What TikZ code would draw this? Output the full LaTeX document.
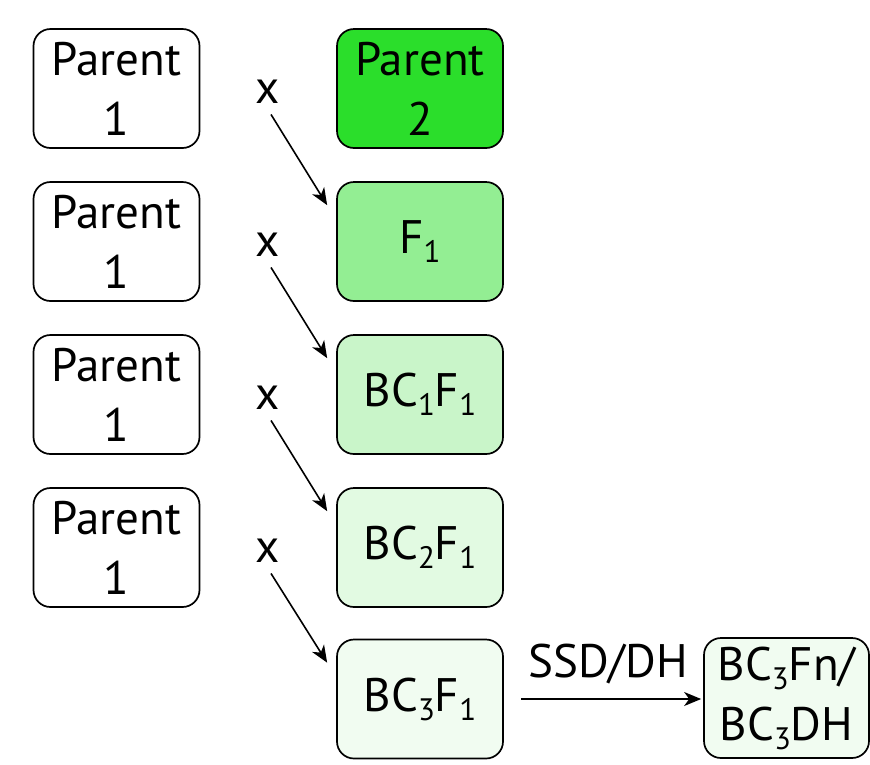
\documentclass[tikz,border=0pt]{standalone}
\usepackage{fontspec}
\setmainfont{PT Sans}
\usetikzlibrary{arrows.meta}
\newcommand\subd[1]{\raisebox{-9pt}{\fontsize{31}{31}\selectfont #1}}
\definecolor{gParent}{RGB}{43,222,43}
\definecolor{gFone}{RGB}{147,238,147}
\definecolor{gBCone}{RGB}{201,245,201}
\definecolor{gBCtwo}{RGB}{226,250,226}
\definecolor{gBCthree}{RGB}{241,252,241}
\tikzset{
  gbox/.style={draw=black, line width=1.7pt, rounded corners=17pt,
    minimum width=166pt, minimum height=119pt, inner sep=0pt,
    align=center, font=\fontsize{47}{60}\selectfont},
  xlab/.style={inner sep=0pt, font=\fontsize{47}{60}\selectfont},
  arr/.style={line width=1.6pt, -{Stealth[length=17pt,width=14pt,inset=5pt]}}
}
\begin{document}
\begin{tikzpicture}[x=1pt,y=-1pt]
\useasboundingbox (0,0) rectangle (870,764);
% left column
\node[gbox, fill=white] (pa) at (116.5,88.5) {Parent\\1};
\node[gbox, fill=white] (pb) at (116.5,241.5) {Parent\\1};
\node[gbox, fill=white] (pc) at (116.5,394.5) {Parent\\1};
\node[gbox, fill=white] (pd) at (116.5,547.5) {Parent\\1};
% right column
\node[gbox, fill=gParent] (p2) at (420,88.5) {Parent\\2};
\node[gbox, fill=gFone] (f1) at (420,241.5) {F\subd{1}};
\node[gbox, fill=gBCone] (bc1) at (420,394.5) {BC\subd{1}F\subd{1}};
\node[gbox, fill=gBCtwo] (bc2) at (420,547.5) {BC\subd{2}F\subd{1}};
\node[gbox, fill=gBCthree] (bc3) at (420,699) {BC\subd{3}F\subd{1}};
\node[gbox, fill=gBCthree, minimum width=165pt, minimum height=120pt] (fin) at (786.5,698) {BC\subd{3}Fn/\\BC\subd{3}DH};
% x labels
\node[xlab] (xa) at (268,91.5) {x};
\node[xlab] (xb) at (268,244.5) {x};
\node[xlab] (xc) at (268,397.5) {x};
\node[xlab] (xd) at (268,550.5) {x};
% arrows
\draw[arr] ([shift={(3,11)}]xa.south) -- ([shift={(-9,24)}]f1.north west);
\draw[arr] ([shift={(3,11)}]xb.south) -- ([shift={(-9,24)}]bc1.north west);
\draw[arr] ([shift={(3,11)}]xc.south) -- ([shift={(-9,24)}]bc2.north west);
\draw[arr] ([shift={(3,11)}]xd.south) -- ([shift={(-9,24)}]bc3.north west);
\draw[arr] ([xshift=17.5pt]bc3.east) -- ([xshift=-2pt]fin.west |- bc3.east);
\node[xlab, anchor=base] (ssd) at (608,677) {SSD/DH};
\end{tikzpicture}
\end{document}
